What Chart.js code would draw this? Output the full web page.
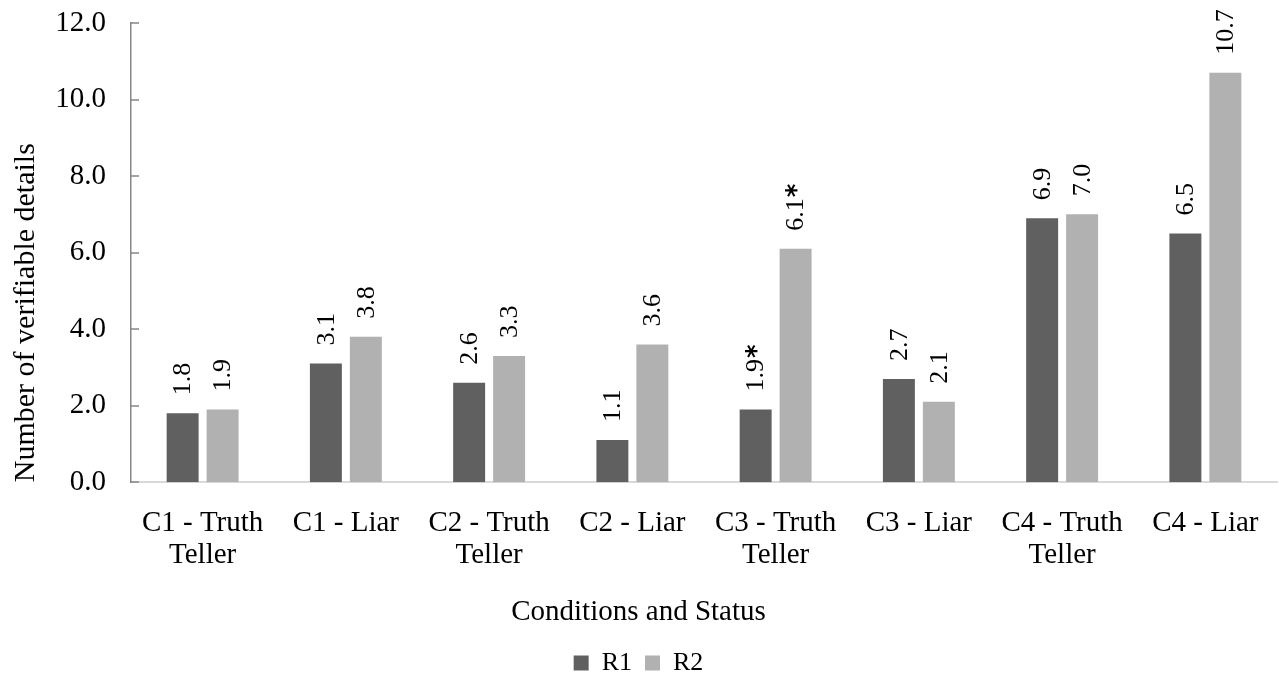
<!DOCTYPE html>
<html>
<head>
<meta charset="utf-8">
<script src="https://cdn.jsdelivr.net/npm/chart.js@4.4.1/dist/chart.umd.min.js"></script>
<style>
  html, body { margin: 0; padding: 0; background: #fff; }
  #wrap { width: 1279px; height: 674px; }
</style>
</head>
<body>
<div id="wrap"><canvas id="chart" width="1279" height="674"></canvas></div>
<script>
const categories = [
  ["C1 - Truth", "Teller"], "C1 - Liar",
  ["C2 - Truth", "Teller"], "C2 - Liar",
  ["C3 - Truth", "Teller"], "C3 - Liar",
  ["C4 - Truth", "Teller"], "C4 - Liar"
];
const r1Values = [1.8, 3.1, 2.6, 1.1, 1.9, 2.7, 6.9, 6.5];
const r2Values = [1.9, 3.8, 3.3, 3.6, 6.1, 2.1, 7.0, 10.7];
// significance marks shown after the value label
const r1Marks = ["", "", "", "", "*", "", "", ""];
const r2Marks = ["", "", "", "", "*", "", "", ""];
const yTicks = [0, 2, 4, 6, 8, 10, 12];

const FONT = "'Liberation Serif', 'Times New Roman', serif";

// value labels, rotated, above each bar
const barLabels = {
  id: "barLabels",
  afterDatasetsDraw(chart) {
    const ctx = chart.ctx;
    const marks = [r1Marks, r2Marks];
    chart.data.datasets.forEach((ds, i) => {
      const meta = chart.getDatasetMeta(i);
      meta.data.forEach((bar, j) => {
        const txt = ds.data[j].toFixed(1);
        ctx.save();
        ctx.translate(bar.x, bar.y - 18);
        ctx.rotate(-Math.PI / 2);
        ctx.fillStyle = "#000";
        ctx.textAlign = "left";
        ctx.textBaseline = "middle";
        ctx.font = "26px " + FONT;
        ctx.fillText(txt, 0, 1);
        if (marks[i][j]) {
          const w = ctx.measureText(txt).width;
          ctx.font = "bold 26px 'DejaVu Sans', sans-serif";
          ctx.fillText(marks[i][j], w + 1, 3);
        }
        ctx.restore();
      });
    });
  }
};

// short tick marks on the inside of the value axis
const innerTicks = {
  id: "innerTicks",
  afterDraw(chart) {
    const ctx = chart.ctx;
    const y = chart.scales.y;
    const left = chart.chartArea.left;
    ctx.save();
    ctx.strokeStyle = "#868686";
    ctx.lineWidth = 1.5;
    y.ticks.forEach((t) => {
      const py = Math.round(y.getPixelForValue(t.value));
      ctx.beginPath();
      ctx.moveTo(left, py);
      ctx.lineTo(left + 8, py);
      ctx.stroke();
    });
    ctx.restore();
  }
};

new Chart(document.getElementById("chart"), {
  type: "bar",
  data: {
    labels: categories,
    datasets: [
      { label: "R1", data: r1Values, backgroundColor: "#606060" },
      { label: "R2", data: r2Values, backgroundColor: "#b1b1b1" }
    ]
  },
  options: {
    responsive: false,
    animation: false,
    categoryPercentage: 0.558,
    barPercentage: 0.8,
    layout: { padding: { left: 0, right: 2, top: 23, bottom: -12 } },
    plugins: {
      tooltip: { enabled: false },
      title: {
        display: true,
        position: "bottom",
        weight: 500,
        text: "Conditions and Status",
        color: "#000",
        font: { family: FONT, size: 29, weight: "normal", lineHeight: 1.2 },
        padding: { top: 0, bottom: 7 }
      },
      legend: {
        position: "bottom",
        labels: {
          color: "#000",
          font: { family: FONT, size: 26 },
          boxWidth: 15,
          boxHeight: 15,
          padding: 13
        }
      }
    },
    scales: {
      x: {
        afterFit(s) {
          s.height = 113;
          s.paddingLeft = 0;
          s.paddingRight = 0;
        },
        grid: { display: false },
        border: { color: "#d9d9d9", width: 2 },
        ticks: {
          color: "#000",
          font: { family: FONT, size: 29, lineHeight: 1.1 },
          maxRotation: 0,
          autoSkip: false,
          padding: 17
        }
      },
      y: {
        min: 0,
        max: 12,
        afterBuildTicks(s) { s.ticks = yTicks.map((v) => ({ value: v })); },
        afterFit(s) {
          s.width = 131;
          s.paddingTop = 0;
          s.paddingBottom = 0;
        },
        grid: { display: false, drawTicks: false },
        border: { color: "#868686", width: 1.5 },
        ticks: {
          color: "#000",
          font: { family: FONT, size: 29 },
          padding: 25,
          callback: (v) => Number(v).toFixed(1)
        },
        title: {
          display: true,
          align: "start",
          text: "Number of verifiable details",
          color: "#000",
          font: { family: FONT, size: 30 },
          padding: { top: 8, bottom: 0 }
        }
      }
    }
  },
  plugins: [barLabels, innerTicks]
});
</script>
</body>
</html>
